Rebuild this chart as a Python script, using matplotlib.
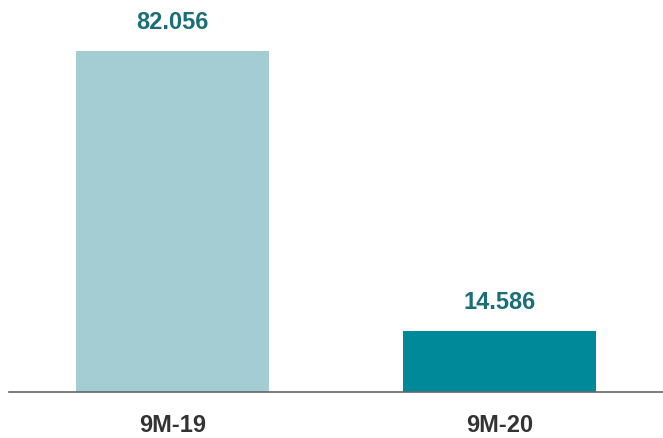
import matplotlib
matplotlib.use("Agg")
import matplotlib.pyplot as plt
from matplotlib import font_manager

# data
categories = ["9M-19", "9M-20"]
values = [82.056, 14.586]
value_labels = ["82.056", "14.586"]
bar_colors = ["#A3CDD3", "#008A99"]

names = {f.name for f in font_manager.fontManager.ttflist}
family = "Liberation Sans Narrow" if "Liberation Sans Narrow" in names else "Liberation Sans"

fig = plt.figure(figsize=(6.63, 4.39), dpi=100)
ax = fig.add_axes([9 / 663, 46 / 439, 654 / 663, 393 / 439])

x = list(range(len(categories)))
ax.bar(x, values, width=0.588, color=bar_colors, zorder=2)

ax.set_xlim(-0.5, 1.5)
ax.set_ylim(0, 94.6)

for xi, v, lab in zip(x, values, value_labels):
    ax.annotate(lab, (xi, v), xytext=(0, 21.6), textcoords="offset points",
                ha="center", va="center", fontsize=17, fontweight="bold",
                color="#1A6E78", family=family)

ax.set_xticks(x)
ax.set_xticklabels(categories, fontsize=17, fontweight="bold",
                   color="#333333", family=family)
ax.tick_params(axis="x", length=0, pad=15)
ax.set_yticks([])

for s in ["top", "right", "left"]:
    ax.spines[s].set_visible(False)
ax.spines["bottom"].set_color("#666666")
ax.spines["bottom"].set_linewidth(1.2)
ax.patch.set_alpha(0)

fig.savefig("out.png", dpi=100)
